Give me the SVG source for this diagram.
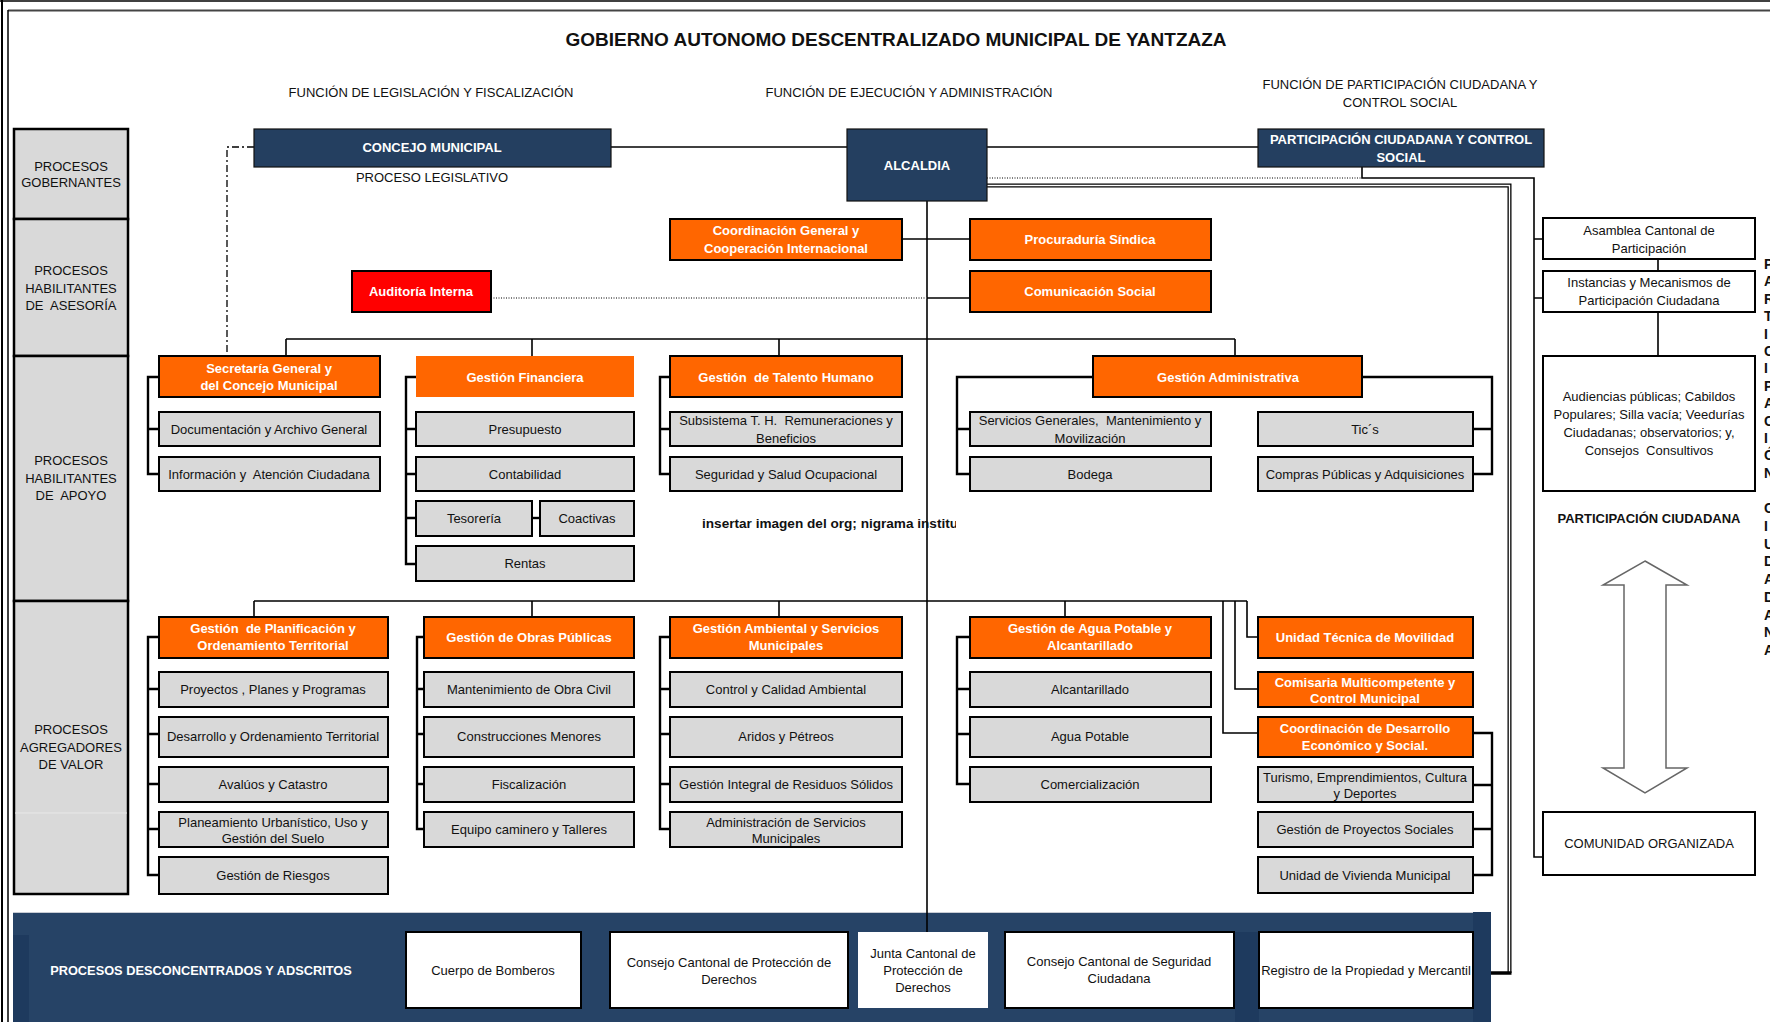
<svg xmlns="http://www.w3.org/2000/svg" width="1770" height="1022" viewBox="0 0 1770 1022">
<defs>
<style>
text{font-family:"Liberation Sans",Arial,sans-serif;font-size:13px;text-anchor:middle;fill:#111}
.b{font-weight:bold}
.wt{fill:#fff;font-weight:bold}
.o{fill:#FF6600;stroke:#000;stroke-width:2}
.g{fill:#D9D9D9;stroke:#000;stroke-width:2}
.w{fill:#fff;stroke:#000;stroke-width:2}
.n{fill:#243F60;stroke:#111;stroke-width:1.2}
.lc{fill:#D9D9D9;stroke:#000;stroke-width:2.5}
.c{fill:none;stroke:#000;stroke-width:1.6}
.t{fill:none;stroke:#000;stroke-width:2.4}
.dot{fill:none;stroke:#555;stroke-width:1.5;stroke-dasharray:1 1.5}
.vl{font-weight:bold;font-size:14px;text-anchor:start}
</style>
<clipPath id="clipIns"><rect x="690" y="505" width="266" height="35"/></clipPath>
</defs>

<g id="frame">
<path d="M0 1 H1770" stroke="#000" stroke-width="1.5" fill="none"/>
<path d="M8 10.5 H1770" stroke="#444" stroke-width="2.2" fill="none"/>
<path d="M2 0 V1022" stroke="#000" stroke-width="2" fill="none"/>
<path d="M8 10 V1022" stroke="#000" stroke-width="1.5" fill="none"/>
</g>

<g id="headers">
<text x="896" y="46" class="b" style="font-size:19px">GOBIERNO AUTONOMO DESCENTRALIZADO MUNICIPAL DE YANTZAZA</text>
<text x="431" y="97">FUNCIÓN DE LEGISLACIÓN Y FISCALIZACIÓN</text>
<text x="909" y="97">FUNCIÓN DE EJECUCIÓN Y ADMINISTRACIÓN</text>
<text x="1400" y="89">FUNCIÓN DE PARTICIPACIÓN CIUDADANA Y</text>
<text x="1400" y="107">CONTROL SOCIAL</text>
</g>

<g id="lc-gobernantes"><rect class="lc" x="14" y="129" width="114" height="90"/><text x="71" y="171">PROCESOS</text><text x="71" y="187">GOBERNANTES</text></g>
<g id="lc-asesoria"><rect class="lc" x="14" y="219" width="114" height="137"/><text x="71" y="275">PROCESOS</text><text x="71" y="293">HABILITANTES</text><text x="71" y="310" style="white-space:pre">DE  ASESORÍA</text></g>
<g id="lc-apoyo"><rect class="lc" x="14" y="356" width="114" height="245"/><text x="71" y="465">PROCESOS</text><text x="71" y="483">HABILITANTES</text><text x="71" y="500" style="white-space:pre">DE  APOYO</text></g>
<g id="lc-valor"><rect class="lc" x="14" y="601" width="114" height="293"/><path d="M15 813 H127" stroke="#e8e8e8" stroke-width="1"/><text x="71" y="734">PROCESOS</text><text x="71" y="752">AGREGADORES</text><text x="71" y="769">DE VALOR</text></g>

<g id="band">
<rect x="13" y="912" width="1478" height="110" fill="#264366"/>
<rect x="13" y="935" width="16" height="87" fill="#1E3A5E"/>
<rect x="1235" y="932" width="24" height="90" fill="#1E3A5E"/>
<rect x="1473" y="912" width="18" height="110" fill="#1E3A5E"/>
<path d="M13 912.5 H1473" stroke="#c8ccd4" stroke-width="1"/>
<text x="201" y="975" class="wt" style="font-size:12.8px">PROCESOS DESCONCENTRADOS Y ADSCRITOS</text>
</g>

<g id="connectors">
<path class="c" d="M611 147 H847"/>
<path class="c" d="M987 147 H1258"/>
<path fill="none" stroke="#000" stroke-width="1.3" stroke-dasharray="7 3 2 3" d="M254 147 H227 V356"/>
<path class="dot" d="M987 178 H1362"/>
<path class="c" d="M1362 167 V178 H1534 V857 H1543"/>
<path fill="none" stroke="#000" stroke-width="4" d="M987 185.5 H1509.5 V973"/>
<path fill="none" stroke="#fff" stroke-width="1.4" d="M987 185.5 H1509.5 V972"/>
<path fill="none" stroke="#000" stroke-width="3.5" d="M1491 973 H1511.5"/>
<path class="c" d="M1534 239 H1543 M1534 298 H1543"/>
<path class="c" d="M1658 259 V271 M1658 312 V356"/>
<path class="c" d="M927 201 V932"/>
<path class="c" d="M902 239 H970"/>
<path class="c" d="M927 298 H970"/>
<path class="dot" d="M491 298 H927"/>
<path class="c" d="M286 339 H1235 M286 339 V356 M532 339 V356 M779 339 V356 M1235 339 V356"/>
<path class="t" d="M159 377 H148 V474 H159 M148 429 H159"/>
<path class="t" d="M416 377 H406 V564 H416 M406 429 H416 M406 474 H416 M406 518 H416"/>
<path class="t" d="M532 518 H540"/>
<path class="t" d="M670 377 H660 V474 H670 M660 429 H670"/>
<path class="t" d="M1093 377 H957 V474 H970 M957 429 H970"/>
<path class="t" d="M1362 377 H1492 V474 H1473 M1492 429 H1473"/>
<path class="c" d="M254 601 H1247 M254 601 V617 M532 601 V617 M779 601 V617 M1065 601 V617"/>
<path class="t" d="M159 637 H148 V875 H159 M148 689 H159 M148 734 H159 M148 784 H159 M148 829 H159"/>
<path class="t" d="M424 637 H417 V829 H424 M417 689 H424 M417 734 H424 M417 784 H424"/>
<path class="t" d="M670 637 H660 V829 H670 M660 689 H670 M660 734 H670 M660 784 H670"/>
<path class="t" d="M970 637 H957 V784 H970 M957 689 H970 M957 734 H970"/>
<path class="c" d="M1247 601 V637 H1258 M1235 601 V689 H1258 M1223 601 V733 H1258"/>
<path class="t" d="M1473 733 H1492 V875 H1473 M1492 785 H1473 M1492 829 H1473"/>
</g>

<g id="concejo"><rect class="n" x="254" y="129" width="357" height="38"/><text x="432" y="152" class="wt">CONCEJO MUNICIPAL</text><text x="432" y="182">PROCESO LEGISLATIVO</text></g>
<g id="alcaldia"><rect class="n" x="847" y="129" width="140" height="72"/><text x="917" y="170" class="wt">ALCALDIA</text></g>
<g id="participacion"><rect class="n" x="1258" y="129" width="286" height="38"/><text x="1401" y="144" class="wt">PARTICIPACIÓN CIUDADANA Y CONTROL</text><text x="1401" y="162" class="wt">SOCIAL</text></g>

<g id="coordinacion-general"><rect class="o" x="670" y="219" width="232" height="41"/><text x="786" y="235" class="wt">Coordinación General y</text><text x="786" y="253" class="wt">Cooperación Internacional</text></g>
<g id="procuraduria"><rect class="o" x="970" y="219" width="241" height="41"/><text x="1090" y="244" class="wt">Procuraduría Síndica</text></g>
<g id="comunicacion"><rect class="o" x="970" y="271" width="241" height="41"/><text x="1090" y="296" class="wt">Comunicación Social</text></g>
<g id="auditoria"><rect x="352" y="271" width="139" height="41" fill="#FF0000" stroke="#000" stroke-width="2"/><text x="421" y="296" class="wt">Auditoría Interna</text></g>

<g id="secretaria"><rect class="o" x="159" y="356" width="221" height="41"/><text x="269" y="373" class="wt">Secretaría General y</text><text x="269" y="390" class="wt">del Concejo Municipal</text></g>
<g id="documentacion"><rect class="g" x="159" y="412" width="221" height="34"/><text x="269" y="434">Documentación y Archivo General</text></g>
<g id="informacion"><rect class="g" x="159" y="457" width="221" height="34"/><text x="269" y="479" style="white-space:pre">Información y  Atención Ciudadana</text></g>
<g id="financiera"><rect x="416" y="356" width="218" height="41" fill="#FF6600"/><text x="525" y="382" class="wt">Gestión Financiera</text></g>
<g id="presupuesto"><rect class="g" x="416" y="412" width="218" height="34"/><text x="525" y="434">Presupuesto</text></g>
<g id="contabilidad"><rect class="g" x="416" y="457" width="218" height="34"/><text x="525" y="479">Contabilidad</text></g>
<g id="tesoreria"><rect class="g" x="416" y="501" width="116" height="35"/><text x="474" y="523">Tesorería</text></g>
<g id="coactivas"><rect class="g" x="540" y="501" width="94" height="35"/><text x="587" y="523">Coactivas</text></g>
<g id="rentas"><rect class="g" x="416" y="546" width="218" height="35"/><text x="525" y="568">Rentas</text></g>
<g id="talento"><rect class="o" x="670" y="356" width="232" height="41"/><text x="786" y="382" class="wt" style="white-space:pre">Gestión  de Talento Humano</text></g>
<g id="subsistema"><rect class="g" x="670" y="412" width="232" height="34"/><text x="786" y="425" style="white-space:pre">Subsistema T. H.  Remuneraciones y</text><text x="786" y="443">Beneficios</text></g>
<g id="seguridad-salud"><rect class="g" x="670" y="457" width="232" height="34"/><text x="786" y="479">Seguridad y Salud Ocupacional</text></g>
<g id="administrativa"><rect class="o" x="1093" y="356" width="269" height="41"/><text x="1228" y="382" class="wt">Gestión Administrativa</text></g>
<g id="servicios"><rect class="g" x="970" y="412" width="241" height="34"/><text x="1090" y="425" style="white-space:pre">Servicios Generales,  Mantenimiento y</text><text x="1090" y="443">Movilización</text></g>
<g id="bodega"><rect class="g" x="970" y="457" width="241" height="34"/><text x="1090" y="479">Bodega</text></g>
<g id="tics"><rect class="g" x="1258" y="412" width="215" height="34"/><text x="1365" y="434">Tic´s</text></g>
<g id="compras"><rect class="g" x="1258" y="457" width="215" height="34"/><text x="1365" y="479">Compras Públicas y Adquisiciones</text></g>
<g id="nota"><text x="702" y="528" class="b" style="text-anchor:start;font-size:13.6px" clip-path="url(#clipIns)">insertar imagen del org; nigrama institu</text></g>

<g id="planificacion"><rect class="o" x="159" y="617" width="229" height="41"/><text x="273" y="633" class="wt" style="white-space:pre">Gestión  de Planificación y</text><text x="273" y="650" class="wt">Ordenamiento Territorial</text></g>
<g id="proyectos"><rect class="g" x="159" y="672" width="229" height="35"/><text x="273" y="694">Proyectos , Planes y Programas</text></g>
<g id="desarrollo"><rect class="g" x="159" y="717" width="229" height="40"/><text x="273" y="741">Desarrollo y Ordenamiento Territorial</text></g>
<g id="avaluos"><rect class="g" x="159" y="767" width="229" height="35"/><text x="273" y="789">Avalúos y Catastro</text></g>
<g id="planeamiento"><rect class="g" x="159" y="812" width="229" height="35"/><text x="273" y="827">Planeamiento Urbanístico, Uso y</text><text x="273" y="843">Gestión del Suelo</text></g>
<g id="riesgos"><rect class="g" x="159" y="857" width="229" height="37"/><text x="273" y="880">Gestión de Riesgos</text></g>
<g id="obras"><rect class="o" x="424" y="617" width="210" height="41"/><text x="529" y="642" class="wt">Gestión de Obras Públicas</text></g>
<g id="mantenimiento"><rect class="g" x="424" y="672" width="210" height="35"/><text x="529" y="694">Mantenimiento de Obra Civil</text></g>
<g id="construcciones"><rect class="g" x="424" y="717" width="210" height="40"/><text x="529" y="741">Construcciones Menores</text></g>
<g id="fiscalizacion"><rect class="g" x="424" y="767" width="210" height="35"/><text x="529" y="789">Fiscalización</text></g>
<g id="equipo"><rect class="g" x="424" y="812" width="210" height="35"/><text x="529" y="834">Equipo caminero y Talleres</text></g>
<g id="ambiental"><rect class="o" x="670" y="617" width="232" height="41"/><text x="786" y="633" class="wt">Gestión Ambiental y Servicios</text><text x="786" y="650" class="wt">Municipales</text></g>
<g id="control-calidad"><rect class="g" x="670" y="672" width="232" height="35"/><text x="786" y="694">Control y Calidad Ambiental</text></g>
<g id="aridos"><rect class="g" x="670" y="717" width="232" height="40"/><text x="786" y="741">Aridos y Pétreos</text></g>
<g id="residuos"><rect class="g" x="670" y="767" width="232" height="35"/><text x="786" y="789">Gestión Integral de Residuos Sólidos</text></g>
<g id="adm-servicios"><rect class="g" x="670" y="812" width="232" height="35"/><text x="786" y="827">Administración de Servicios</text><text x="786" y="843">Municipales</text></g>
<g id="agua"><rect class="o" x="970" y="617" width="241" height="41"/><text x="1090" y="633" class="wt">Gestión de Agua Potable y</text><text x="1090" y="650" class="wt">Alcantarillado</text></g>
<g id="alcantarillado"><rect class="g" x="970" y="672" width="241" height="35"/><text x="1090" y="694">Alcantarillado</text></g>
<g id="agua-potable"><rect class="g" x="970" y="717" width="241" height="40"/><text x="1090" y="741">Agua Potable</text></g>
<g id="comercializacion"><rect class="g" x="970" y="767" width="241" height="35"/><text x="1090" y="789">Comercialización</text></g>
<g id="movilidad"><rect class="o" x="1258" y="617" width="215" height="41"/><text x="1365" y="642" class="wt">Unidad Técnica de Movilidad</text></g>
<g id="comisaria"><rect class="o" x="1258" y="672" width="215" height="35"/><text x="1365" y="687" class="wt">Comisaria Multicompetente y</text><text x="1365" y="703" class="wt">Control Municipal</text></g>
<g id="coord-desarrollo"><rect class="o" x="1258" y="717" width="215" height="40"/><text x="1365" y="733" class="wt">Coordinación de Desarrollo</text><text x="1365" y="750" class="wt">Económico y Social.</text></g>
<g id="turismo"><rect class="g" x="1258" y="767" width="215" height="35"/><text x="1365" y="782">Turismo, Emprendimientos, Cultura</text><text x="1365" y="798">y Deportes</text></g>
<g id="proyectos-sociales"><rect class="g" x="1258" y="812" width="215" height="35"/><text x="1365" y="834">Gestión de Proyectos Sociales</text></g>
<g id="vivienda"><rect class="g" x="1258" y="857" width="215" height="36"/><text x="1365" y="880">Unidad de Vivienda Municipal</text></g>

<g id="asamblea"><rect class="w" x="1543" y="218" width="212" height="41"/><text x="1649" y="235">Asamblea Cantonal de</text><text x="1649" y="253">Participación</text></g>
<g id="instancias"><rect class="w" x="1543" y="271" width="212" height="41"/><text x="1649" y="287">Instancias y Mecanismos de</text><text x="1649" y="305">Participación Ciudadana</text></g>
<g id="audiencias"><rect class="w" x="1543" y="356" width="212" height="135"/><text x="1649" y="401">Audiencias públicas; Cabildos</text><text x="1649" y="419">Populares; Silla vacía; Veedurías</text><text x="1649" y="437">Ciudadanas; observatorios; y,</text><text x="1649" y="455" style="white-space:pre">Consejos  Consultivos</text></g>
<g id="pc-label"><text x="1649" y="523" class="b">PARTICIPACIÓN CIUDADANA</text></g>
<g id="double-arrow"><polygon points="1645,561 1687,585 1666,585 1666,768 1687,768 1645,793 1603,768 1624,768 1624,585 1603,585" fill="#fff" stroke="#666" stroke-width="1.5"/></g>
<g id="comunidad"><rect class="w" x="1543" y="812" width="212" height="63"/><text x="1649" y="848">COMUNIDAD ORGANIZADA</text></g>

<g id="vertical-text">
<text class="vl"><tspan x="1764" y="269">P</tspan><tspan x="1764" y="286">A</tspan><tspan x="1764" y="304">R</tspan><tspan x="1764" y="321">T</tspan><tspan x="1764" y="339">I</tspan><tspan x="1764" y="356">C</tspan><tspan x="1764" y="373">I</tspan><tspan x="1764" y="391">P</tspan><tspan x="1764" y="408">A</tspan><tspan x="1764" y="426">C</tspan><tspan x="1764" y="443">I</tspan><tspan x="1764" y="460">Ó</tspan><tspan x="1764" y="478">N</tspan><tspan x="1764" y="513">C</tspan><tspan x="1764" y="531">I</tspan><tspan x="1764" y="549">U</tspan><tspan x="1764" y="566">D</tspan><tspan x="1764" y="584">A</tspan><tspan x="1764" y="602">D</tspan><tspan x="1764" y="620">A</tspan><tspan x="1764" y="637">N</tspan><tspan x="1764" y="655">A</tspan></text>
</g>

<g id="bomberos"><rect class="w" x="406" y="932" width="175" height="76"/><text x="493" y="975">Cuerpo de Bomberos</text></g>
<g id="consejo-proteccion"><rect class="w" x="610" y="932" width="238" height="76"/><text x="729" y="967">Consejo Cantonal de Protección de</text><text x="729" y="984">Derechos</text></g>
<g id="junta"><rect x="858" y="932" width="130" height="76" fill="#fff"/><text x="923" y="958">Junta Cantonal de</text><text x="923" y="975">Protección de</text><text x="923" y="992">Derechos</text></g>
<g id="seguridad-ciudadana"><rect class="w" x="1005" y="932" width="229" height="76"/><text x="1119" y="966">Consejo Cantonal de Seguridad</text><text x="1119" y="983">Ciudadana</text></g>
<g id="registro"><rect class="w" x="1259" y="932" width="214" height="76"/><text x="1366" y="975">Registro de la Propiedad y Mercantil</text></g>
</svg>
